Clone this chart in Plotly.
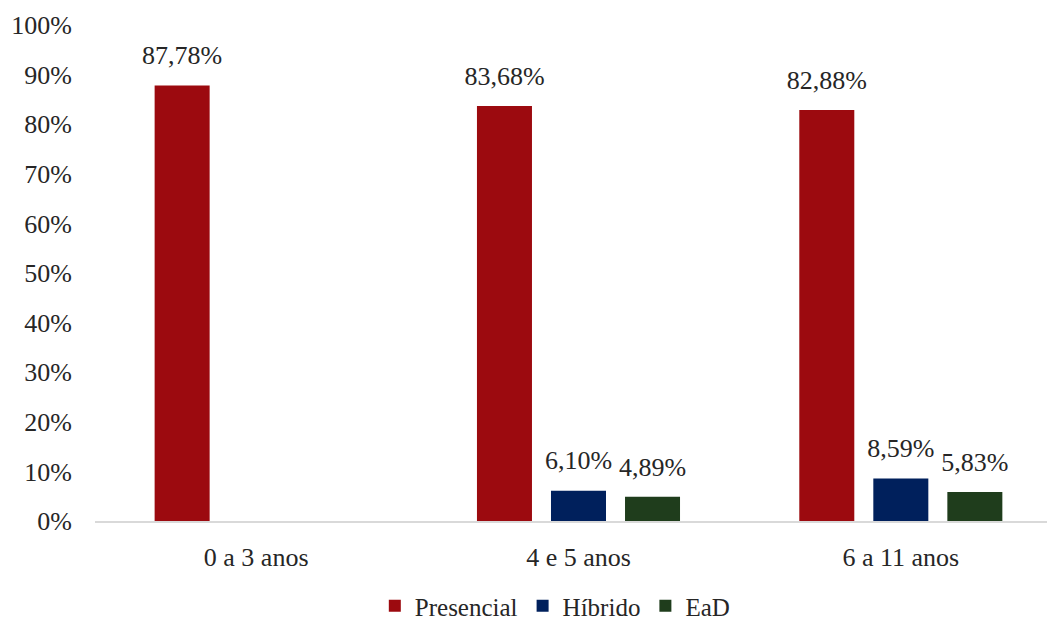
import plotly.graph_objects as go

# Faixas etárias e percentuais por modalidade de ensino
faixas = ["0 a 3 anos", "4 e 5 anos", "6 a 11 anos"]
presencial = [87.78, 83.68, 82.88]
hibrido = [None, 6.10, 8.59]
ead = [None, 4.89, 5.83]

series = [
    ("Presencial", presencial, "#9C0A0F"),
    ("Híbrido", hibrido, "#00205C"),
    ("EaD", ead, "#1F3D1C"),
]

FONT = "Liberation Serif, Times New Roman, serif"
TXT = "#262626"
SIZE = 26

fig = go.Figure()
for nome, valores, cor in series:
    fig.add_trace(go.Bar(
        name=nome,
        x=faixas,
        y=valores,
        offsetgroup=nome,
        marker=dict(color=cor, line=dict(width=0)),
    ))

# rótulos de dados acima de cada barra (pontos invisíveis agrupados como as barras)
for nome, valores, cor in series:
    fig.add_trace(go.Scatter(
        x=faixas,
        y=valores,
        offsetgroup=nome,
        mode="markers+text",
        marker=dict(size=22, opacity=0),
        text=[None if v is None else f"{v:.2f}".replace(".", ",") + "%" for v in valores],
        textposition="top center",
        textfont=dict(family=FONT, size=SIZE, color=TXT),
        cliponaxis=False,
        showlegend=False,
        hoverinfo="skip",
    ))

fig.update_layout(
    width=1047,
    height=623,
    margin=dict(l=95, r=0, t=25, b=102, autoexpand=False),
    paper_bgcolor="white",
    plot_bgcolor="white",
    barmode="group",
    scattermode="group",
    bargap=0.311,
    scattergap=0.311,
    bargroupgap=0.257,
    separators=",.",
    font=dict(family=FONT, size=SIZE, color=TXT),
    showlegend=True,
    legend=dict(
        orientation="h",
        x=0.483, xanchor="center",
        y=-0.125, yanchor="top",
        font=dict(family=FONT, size=25, color=TXT),
        itemwidth=30,
        traceorder="normal",
    ),
    xaxis=dict(
        type="category",
        range=[-0.5, 2.4535],
        showline=True,
        linecolor="#D9D9D9",
        linewidth=2,
        showgrid=False,
        ticks="",
        ticklabelstandoff=12,
        tickfont=dict(family=FONT, size=SIZE, color=TXT),
    ),
    yaxis=dict(
        range=[0, 100],
        dtick=10,
        ticksuffix="%",
        showgrid=False,
        zeroline=False,
        showline=False,
        ticks="",
        ticklabelstandoff=22,
        tickfont=dict(family=FONT, size=SIZE, color=TXT),
    ),
)

fig.write_html("out.html")
